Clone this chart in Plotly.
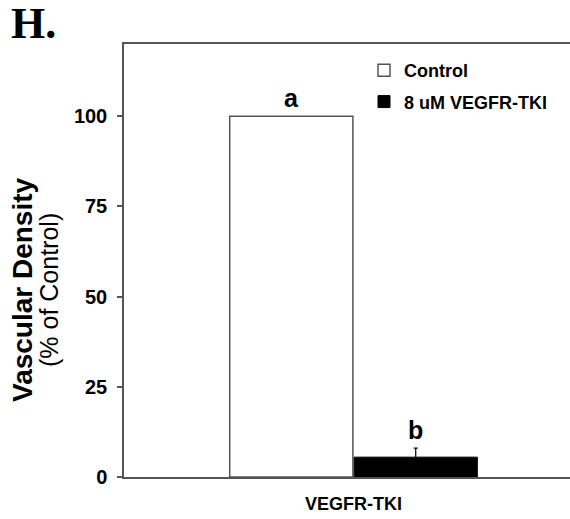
import plotly.graph_objects as go

categories = ["VEGFR-TKI"]
series_names = ["Control", "8 uM VEGFR-TKI"]
control_values = [100]
control_err = [0]
tki_values = [5.5]
tki_err = [2.5]
letters = ["a", "b"]
y_ticks = [0, 25, 50, 75, 100]

FONT = "Liberation Sans, Arial, sans-serif"
AX = "#555555"
BARGAP = 0.442
W, H = 570, 519
ML, MR, MT, MB = 124, 0, 44, 42
PW, PH = W - ML - MR, H - MT - MB


def px_to_paper(xp, yp):
    return (xp - ML) / PW, (H - MB - yp) / PH


fig = go.Figure()
fig.add_trace(go.Bar(
    x=categories, y=control_values, name="<b>%s</b>" % series_names[0],
    marker=dict(color="white", line=dict(color=AX, width=1.5)),
    error_y=dict(type="data", array=control_err, visible=False),
    legendgroup="g1",
))
fig.add_trace(go.Bar(
    x=categories, y=tki_values, name="<b>%s</b>" % series_names[1],
    marker=dict(color="black", line=dict(color="black", width=1)),
    error_y=dict(type="data", array=tki_err, color="black", thickness=1.2, width=2),
    legendgroup="g2",
))

# letters above bars, positioned from bar geometry
half = (1 - BARGAP) / 4
tops = [control_values[0] + control_err[0], tki_values[0] + tki_err[0]]
offs = [-half, half]
for t, o, lt in zip(tops, offs, letters):
    fig.add_annotation(x=o, y=t, xref="x", yref="y", text="<b>%s</b>" % lt,
                       showarrow=False, yanchor="bottom", yshift=2,
                       font=dict(family=FONT, size=25, color="black"))

# panel label
hx, hy = px_to_paper(9, -3)
fig.add_annotation(x=hx, y=hy, xref="paper", yref="paper",
                   xanchor="left", yanchor="top", text="<b>H.</b>", showarrow=False,
                   font=dict(family="Liberation Serif, Times New Roman, serif", size=44, color="black"))

# y-axis title as two lines
t1x, t1y = px_to_paper(22, 290)
t2x, t2y = px_to_paper(49, 290)
fig.add_annotation(x=t1x, y=t1y, xref="paper", yref="paper", text="<b>Vascular Density</b>",
                   showarrow=False, textangle=-90, xanchor="center", yanchor="middle",
                   font=dict(family=FONT, size=28, color="black"))
fig.add_annotation(x=t2x, y=t2y, xref="paper", yref="paper", text="(% of Control)",
                   showarrow=False, textangle=-90, xanchor="center", yanchor="middle",
                   font=dict(family=FONT, size=25, color="black"))

lx, ly = px_to_paper(364, 52)
fig.update_layout(
    width=W, height=H,
    margin=dict(l=ML, r=MR, t=MT, b=MB, autoexpand=False),
    paper_bgcolor="white", plot_bgcolor="white",
    barmode="group", bargap=BARGAP, bargroupgap=0.01,
    showlegend=True,
    legend=dict(x=lx, y=ly, xanchor="left", yanchor="top",
                font=dict(family=FONT, size=18, color="black"),
                bgcolor="rgba(0,0,0,0)", itemwidth=30, tracegroupgap=5,
                traceorder="grouped"),
    font=dict(family=FONT, color="black"),
)
fig.update_xaxes(
    range=[-0.5146, 0.4854], showline=True, linecolor=AX, linewidth=1.5,
    mirror=True, ticks="", showgrid=False, zeroline=False, automargin=False,
    tickfont=dict(family=FONT, size=18, color="black", weight="bold"),
    ticklabelstandoff=10,
)
fig.update_yaxes(
    range=[0, 120], tickvals=y_ticks, showline=True, linecolor=AX, linewidth=1.5,
    ticks="outside", ticklen=5, tickcolor=AX, tickwidth=1.5,
    showgrid=False, zeroline=False, automargin=False,
    tickfont=dict(family=FONT, size=20, color="black", weight="bold"),
    ticklabelstandoff=6,
)

fig.write_html("out.html", config={"displayModeBar": False},
               post_script="document.body.style.margin='0';document.body.style.overflow='hidden';")
